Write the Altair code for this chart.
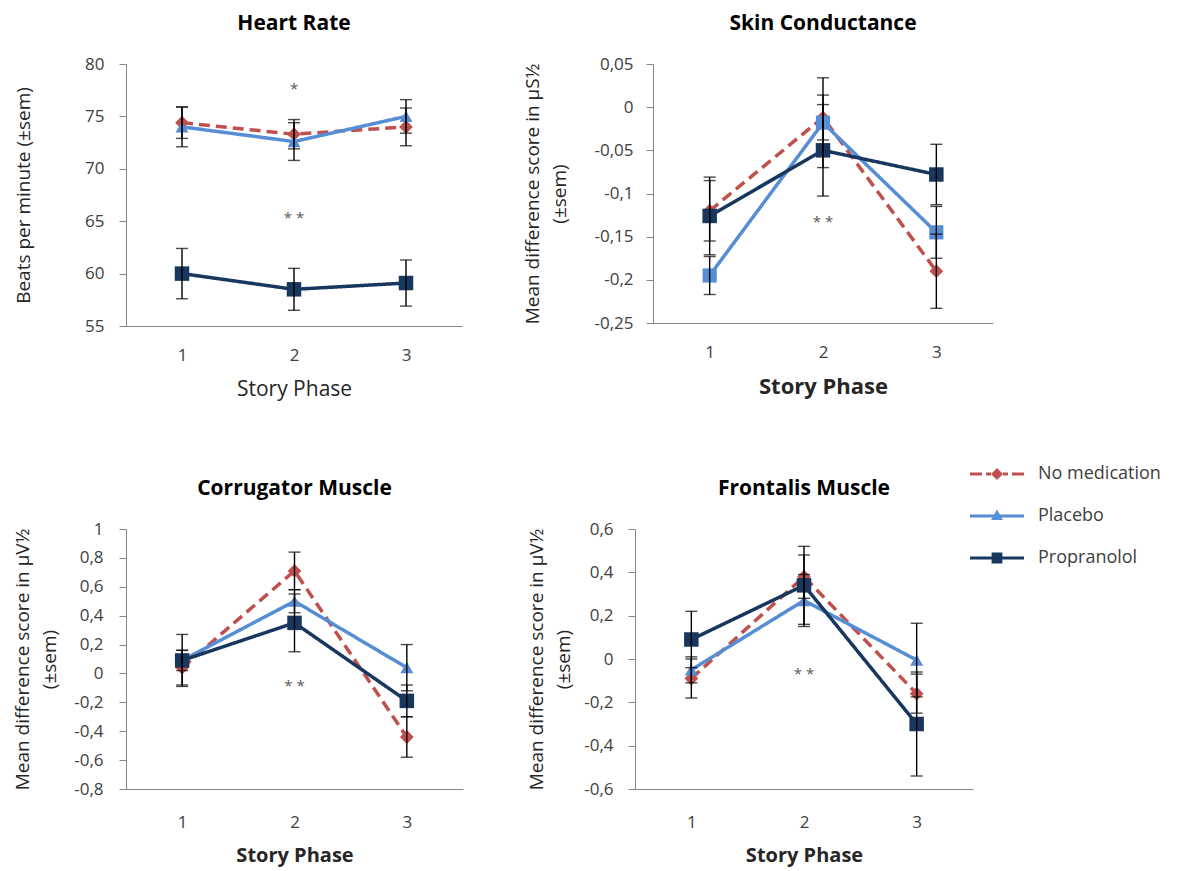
import altair as alt
import pandas as pd

FONT = "Open Sans"
LABEL_COLOR = "#404040"
AXIS_COLOR = "#868686"

phases = [1, 2, 3]
series_names = ["No medication", "Placebo", "Propranolol"]
series_colors = ["#C0504D", "#558ED5", "#17375E"]
marker_shapes = ["diamond", "triangle-up", "square"]
sc_marker_shapes = ["diamond", "square", "square"]  # skin panel uses squares for placebo
marker_sizes = [190, 170, 210]
line_dashes = [[11, 6], [1, 0], [1, 0]]

# Heart Rate (beats per minute)
hr_nomed = [74.4, 73.3, 74.0]
hr_nomed_sem = [1.5, 1.4, 1.8]
hr_plac = [74.0, 72.6, 75.0]
hr_plac_sem = [1.9, 1.8, 1.6]
hr_prop = [60.0, 58.5, 59.1]
hr_prop_sem = [2.4, 2.0, 2.2]
hr_ticks = [55, 60, 65, 70, 75, 80]

# Skin Conductance
sc_nomed = [-0.120, -0.012, -0.190]
sc_nomed_sem = [0.035, 0.026, 0.043]
sc_plac = [-0.195, -0.018, -0.145]
sc_plac_sem = [0.022, 0.052, 0.030]
sc_prop = [-0.126, -0.050, -0.078]
sc_prop_sem = [0.045, 0.053, 0.035]
sc_ticks = [-0.25, -0.2, -0.15, -0.1, -0.05, 0, 0.05]

# Corrugator Muscle
cm_nomed = [0.04, 0.71, -0.44]
cm_nomed_sem = [0.12, 0.13, 0.14]
cm_plac = [0.09, 0.50, 0.04]
cm_plac_sem = [0.07, 0.08, 0.16]
cm_prop = [0.09, 0.35, -0.19]
cm_prop_sem = [0.18, 0.20, 0.11]
cm_ticks = [-0.8, -0.6, -0.4, -0.2, 0, 0.2, 0.4, 0.6, 0.8, 1]

# Frontalis Muscle
fm_nomed = [-0.09, 0.38, -0.16]
fm_nomed_sem = [0.09, 0.10, 0.09]
fm_plac = [-0.05, 0.27, -0.005]
fm_plac_sem = [0.06, 0.12, 0.17]
fm_prop = [0.09, 0.34, -0.30]
fm_prop_sem = [0.13, 0.18, 0.24]
fm_ticks = [-0.6, -0.4, -0.2, 0, 0.2, 0.4, 0.6]

# significance annotations: panel, phase, value, text
ann_panel = ["hr", "hr", "sc", "cm", "fm"]
ann_phase = [2, 2, 2, 2, 2]
ann_value = [77.6, 65.3, -0.133, -0.09, -0.07]
ann_text = ["*", "* *", "* *", "* *", "* *"]

# legend symbols (line + marker), custom paths
legend_paths = [
    "M-1.5,-0.09H-0.833V0.09H-1.5Z M-0.611,-0.09H-0.333V0.09H-0.611Z "
    "M0.333,-0.09H0.611V0.09H0.333Z M0.833,-0.09H1.5V0.09H0.833Z "
    "M0,-0.333L0.333,0L0,0.333L-0.333,0Z",
    "M-1.5,-0.09H1.5V0.09H-1.5Z M0,-0.36L0.33,0.22L-0.33,0.22Z",
    "M-1.5,-0.09H1.5V0.09H-1.5Z M-0.3,-0.3H0.3V0.3H-0.3Z",
]

LABEL_EXPR = "replace(toString(round(datum.value*100)/100), '.', ',')"


def panel(key, title, ytitle, means, sems, ydomain, yticks, width, height,
          xtitle_size, xtitle_weight, xlabel_pad, xtitle_pad,
          ylabel_pad, ytitle_pad, ytitle_size, shapes, add_legend=False):
    rows = []
    for name, m, s in zip(series_names, means, sems):
        for p, v, e in zip(phases, m, s):
            rows.append({"series": name, "phase": p, "v": v,
                         "lo": v - e, "hi": v + e})
    df = pd.DataFrame(rows)

    xaxis = alt.Axis(values=phases, format="d", ticks=False, title="Story Phase",
                     labelFont=FONT, labelFontSize=17, labelColor=LABEL_COLOR,
                     labelPadding=xlabel_pad, titleFont=FONT,
                     titleFontSize=xtitle_size, titleFontWeight=xtitle_weight,
                     titleColor="#262626", titlePadding=xtitle_pad,
                     domainColor=AXIS_COLOR, grid=False)
    xscale = alt.Scale(domain=[0.5, 3.5], nice=False, zero=False)
    yaxis = alt.Axis(values=yticks, labelExpr=LABEL_EXPR, title=ytitle,
                     labelFont=FONT, labelFontSize=17, labelColor=LABEL_COLOR,
                     labelPadding=ylabel_pad, tickSize=7, tickColor=AXIS_COLOR,
                     domainColor=AXIS_COLOR, grid=False, titleFont=FONT,
                     titleFontSize=ytitle_size, titleFontWeight="normal",
                     titleColor="#262626", titlePadding=ytitle_pad,
                     titleLineHeight=27)
    yscale = alt.Scale(domain=ydomain, nice=False, zero=False)
    x = alt.X("phase:Q", scale=xscale, axis=xaxis)
    y = alt.Y("v:Q", scale=yscale, axis=yaxis)

    layers = []
    for name, color, dash in zip(series_names, series_colors, line_dashes):
        layers.append(
            alt.Chart(df).transform_filter(alt.datum.series == name)
            .mark_line(color=color, strokeWidth=3.5, strokeDash=dash)
            .encode(x=x, y=y)
        )
    for name, color, shape, size in zip(series_names, series_colors,
                                        shapes, marker_sizes):
        if shape == "square":
            size = 200 if name == "Placebo" else 210
        layers.append(
            alt.Chart(df).transform_filter(alt.datum.series == name)
            .mark_point(shape=shape, filled=True, size=size, color=color,
                        opacity=1, strokeWidth=0)
            .encode(x=x, y=y)
        )
    layers.append(
        alt.Chart(df).mark_errorbar(ticks={"size": 12, "thickness": 1.4},
                                    color="black", thickness=1.4)
        .encode(x=x, y=alt.Y("lo:Q", scale=yscale, axis=yaxis), y2="hi:Q")
    )
    adf = pd.DataFrame({"panel": ann_panel, "phase": ann_phase,
                        "v": ann_value, "t": ann_text})
    adf = adf[adf["panel"] == key]
    layers.append(
        alt.Chart(adf).mark_text(font=FONT, fontSize=15, color="#595959")
        .encode(x=x, y=y, text="t:N")
    )
    if add_legend:
        ldf = pd.DataFrame({"series": series_names, "phase": [1, 2, 3],
                            "v": [ydomain[0]] * 3})
        leg = alt.Legend(title=None, orient="none", legendX=853, legendY=392,
                         symbolSize=1296, symbolStrokeWidth=0, symbolOpacity=1,
                         labelFont=FONT, labelFontSize=18,
                         labelColor=LABEL_COLOR, labelOffset=23, rowPadding=15,
                         padding=0)
        layers.append(
            alt.Chart(ldf).transform_filter("false")
            .mark_point(filled=True, opacity=1)
            .encode(
                x=x, y=y,
                color=alt.Color("series:N", sort=series_names,
                                scale=alt.Scale(domain=series_names,
                                                range=series_colors),
                                legend=leg),
                shape=alt.Shape("series:N", sort=series_names,
                                scale=alt.Scale(domain=series_names,
                                                range=legend_paths),
                                legend=leg),
            )
        )
    return alt.layer(*layers).properties(
        width=width, height=height,
        title=alt.TitleParams(title, font=FONT, fontSize=21, fontWeight="bold",
                              anchor="middle", offset=21, color="black"),
    )


p1 = panel("hr", "Heart Rate", "Beats per minute (±sem)",
           [hr_nomed, hr_plac, hr_prop], [hr_nomed_sem, hr_plac_sem, hr_prop_sem],
           [55, 80], hr_ticks, 336, 262, 21, "normal", 21, 15, 15, 51, 19,
           marker_shapes)
p2 = panel("sc", "Skin Conductance", ["Mean difference score in µS½", "(±sem)"],
           [sc_nomed, sc_plac, sc_prop], [sc_nomed_sem, sc_plac_sem, sc_prop_sem],
           [-0.25, 0.05], sc_ticks, 340, 259, 22, "bold", 21, 16, 13, 24, 19,
           sc_marker_shapes)
p3 = panel("cm", "Corrugator Muscle", ["Mean difference score in µV½", "(±sem)"],
           [cm_nomed, cm_plac, cm_prop], [cm_nomed_sem, cm_plac_sem, cm_prop_sem],
           [-0.8, 1], cm_ticks, 337, 260, 20, "bold", 25, 15, 16, 14, 19,
           marker_shapes)
p4 = panel("fm", "Frontalis Muscle", ["Mean difference score in µV½", "(±sem)"],
           [fm_nomed, fm_plac, fm_prop], [fm_nomed_sem, fm_plac_sem, fm_prop_sem],
           [-0.6, 0.6], fm_ticks, 338, 260, 20, "bold", 25, 15, 15, 10, 19,
           marker_shapes, add_legend=True)

row1 = alt.hconcat(p1, p2, spacing=61).resolve_scale(x="independent", y="independent")
row2 = alt.hconcat(p3, p4, spacing=64).resolve_scale(x="independent", y="independent")

chart = (
    alt.vconcat(row1, row2, spacing=79)
    .resolve_scale(x="independent", y="independent")
    .configure_view(stroke=None)
    .properties(padding={"left": 5, "top": 5, "right": 0, "bottom": 4},
                background="white")
)

chart.save("out.html", embed_options={"renderer": "svg", "actions": False})
